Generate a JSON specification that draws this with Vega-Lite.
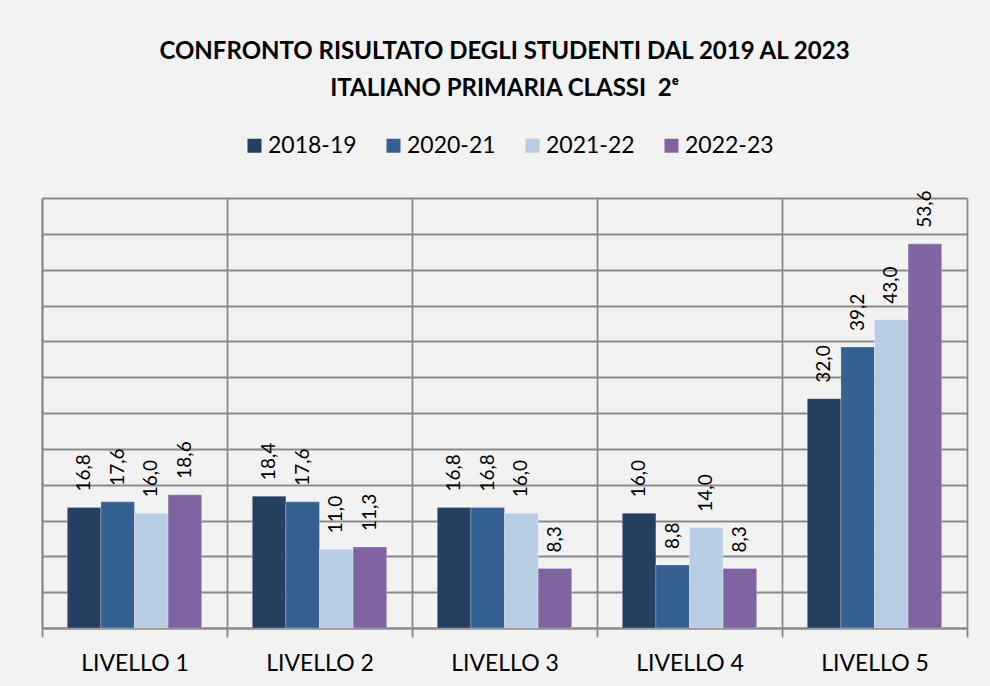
{
  "$schema": "https://vega.github.io/schema/vega-lite/v6.json",
  "width": 925,
  "height": 430,
  "autosize": {"type": "none"},
  "padding": {"left": 42, "top": 198, "right": 23, "bottom": 58},
  "background": "#f2f2f2",
  "config": {
    "font": "Lato",
    "view": {"stroke": null},
    "locale": {"number": {"decimal": ",", "thousands": ".", "grouping": [3], "currency": ["€", ""]}}
  },
  "title": {
    "text": ["CONFRONTO RISULTATO DEGLI STUDENTI DAL 2019 AL 2023", "ITALIANO PRIMARIA CLASSI\u00a0 2ᵉ"],
    "fontSize": 24,
    "fontWeight": "bold",
    "lineHeight": 37,
    "anchor": "middle",
    "color": "black",
    "offset": 33
  },
  "data": {
    "values": [
      {"livello": "LIVELLO 1", "anno": "2018-19", "valore": 16.8},
      {"livello": "LIVELLO 1", "anno": "2020-21", "valore": 17.6},
      {"livello": "LIVELLO 1", "anno": "2021-22", "valore": 16.0},
      {"livello": "LIVELLO 1", "anno": "2022-23", "valore": 18.6},
      {"livello": "LIVELLO 2", "anno": "2018-19", "valore": 18.4},
      {"livello": "LIVELLO 2", "anno": "2020-21", "valore": 17.6},
      {"livello": "LIVELLO 2", "anno": "2021-22", "valore": 11.0},
      {"livello": "LIVELLO 2", "anno": "2022-23", "valore": 11.3},
      {"livello": "LIVELLO 3", "anno": "2018-19", "valore": 16.8},
      {"livello": "LIVELLO 3", "anno": "2020-21", "valore": 16.8},
      {"livello": "LIVELLO 3", "anno": "2021-22", "valore": 16.0},
      {"livello": "LIVELLO 3", "anno": "2022-23", "valore": 8.3},
      {"livello": "LIVELLO 4", "anno": "2018-19", "valore": 16.0},
      {"livello": "LIVELLO 4", "anno": "2020-21", "valore": 8.8},
      {"livello": "LIVELLO 4", "anno": "2021-22", "valore": 14.0},
      {"livello": "LIVELLO 4", "anno": "2022-23", "valore": 8.3},
      {"livello": "LIVELLO 5", "anno": "2018-19", "valore": 32.0},
      {"livello": "LIVELLO 5", "anno": "2020-21", "valore": 39.2},
      {"livello": "LIVELLO 5", "anno": "2021-22", "valore": 43.0},
      {"livello": "LIVELLO 5", "anno": "2022-23", "valore": 53.6}
    ]
  },
  "encoding": {
    "x": {
      "field": "livello",
      "type": "nominal",
      "scale": {"paddingInner": 0, "paddingOuter": 0},
      "axis": {
        "title": null,
        "labelAngle": 0,
        "tickBand": "extent",
        "grid": true,
        "gridColor": "#898989",
        "gridWidth": 1.8,
        "tickColor": "#898989",
        "tickWidth": 1.8,
        "tickSize": 9,
        "domainColor": "#898989",
        "domainWidth": 1.8,
        "labelFontSize": 23,
        "labelColor": "black",
        "labelPadding": 15
      }
    },
    "xOffset": {
      "field": "anno",
      "type": "nominal",
      "scale": {"paddingInner": 0, "paddingOuter": 0.753}
    },
    "y": {
      "field": "valore",
      "type": "quantitative",
      "scale": {"domain": [0, 60]},
      "axis": {
        "title": null,
        "labels": false,
        "ticks": false,
        "values": [0, 5, 10, 15, 20, 25, 30, 35, 40, 45, 50, 55, 60],
        "grid": true,
        "gridColor": "#898989",
        "gridWidth": 1.8,
        "domainColor": "#898989",
        "domainWidth": 1.8
      }
    }
  },
  "layer": [
    {
      "mark": {"type": "bar", "stroke": "white", "strokeOpacity": 0.25, "strokeWidth": 1},
      "encoding": {
        "color": {
          "field": "anno",
          "type": "nominal",
          "scale": {
            "domain": ["2018-19", "2020-21", "2021-22", "2022-23"],
            "range": ["#243f60", "#366092", "#b9cde5", "#8064a2"]
          },
          "legend": {
            "title": null,
            "orient": "none",
            "legendX": 201,
            "legendY": -64,
            "direction": "horizontal",
            "symbolType": "square",
            "symbolSize": 196,
            "symbolStrokeWidth": 0,
            "labelFontSize": 23,
            "labelColor": "black",
            "labelOffset": 2,
            "columnPadding": 25,
            "padding": 0
          }
        }
      }
    },
    {
      "mark": {"type": "text", "angle": 270, "align": "left", "baseline": "middle", "dx": 16, "fontSize": 19, "color": "black"},
      "encoding": {
        "text": {"field": "valore", "type": "quantitative", "format": ".1f"}
      }
    }
  ]
}
